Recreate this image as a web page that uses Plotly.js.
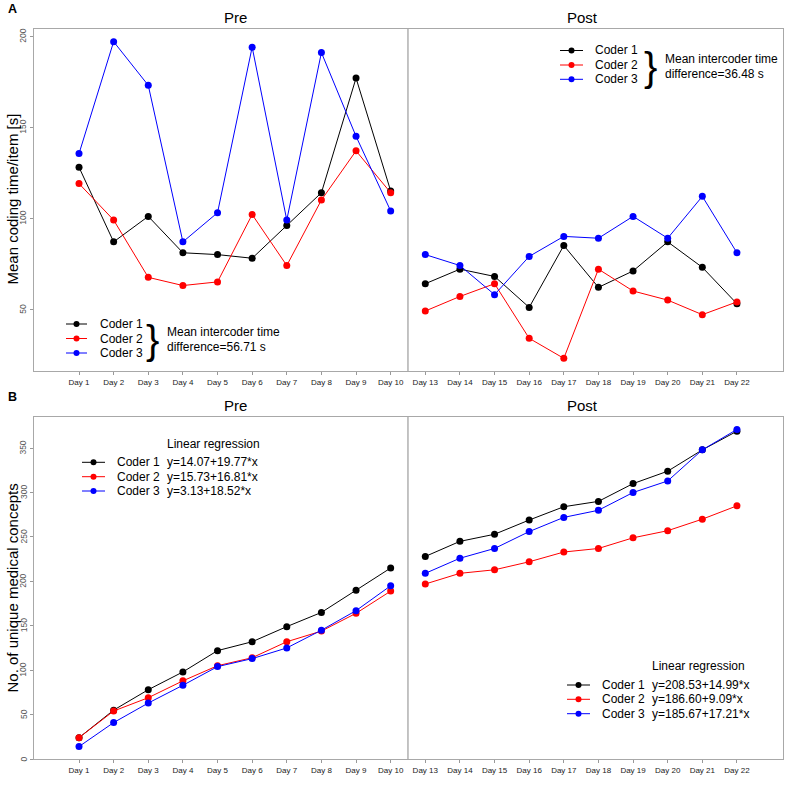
<!DOCTYPE html>
<html>
<head>
<meta charset="utf-8">
<script src="https://cdn.plot.ly/plotly-3.0.1.min.js"></script>
<style>html,body{margin:0;padding:0;background:#fff;}#chart{width:800px;height:790px;}</style>
</head>
<body>
<div id="chart"></div>
<script>
// ---------- DATA ----------
const daysPre  = ["Day 1","Day 2","Day 3","Day 4","Day 5","Day 6","Day 7","Day 8","Day 9","Day 10"];
const daysPost = ["Day 13","Day 14","Day 15","Day 16","Day 17","Day 18","Day 19","Day 20","Day 21","Day 22"];
const coders = ["Coder 1","Coder 2","Coder 3"];

// Panel A: mean coding time per item [s]
const timePreCoder1  = [128, 87, 101, 81, 80, 78, 96, 114, 177, 115];
const timePreCoder2  = [119, 99, 67.5, 63, 65, 102, 74, 110, 137, 114];
const timePreCoder3  = [135.5, 197, 173, 87, 103, 194, 99, 191, 145, 104];
const timePostCoder1 = [64, 72, 68, 51, 85, 62, 71, 87, 73, 53];
const timePostCoder2 = [49, 57, 64, 34, 23, 72, 60, 55, 47, 54];
const timePostCoder3 = [80, 74, 58, 79, 90, 89, 101, 89, 112, 81];

// Panel B: number of unique medical concepts
const concPreCoder1  = [24, 55, 78, 98, 122, 132, 149, 165, 190, 215];
const concPreCoder2  = [24, 54, 69, 88, 105, 114, 132, 144, 164, 189];
const concPreCoder3  = [14, 41, 63, 83, 104, 113, 125, 145, 167, 195];
const concPostCoder1 = [228, 245, 253, 269, 284, 290, 310, 324, 348, 369];
const concPostCoder2 = [197, 209, 213, 222, 233, 237, 249, 257, 270, 285];
const concPostCoder3 = [209, 226, 237, 256, 272, 280, 300, 313, 348, 371];

const yTicksA = [50, 100, 150, 200];
const yTicksB = [0, 50, 100, 150, 200, 250, 300, 350];

const meanDiffPre  = "56.71";
const meanDiffPost = "36.48";
const regPre  = ["y=14.07+19.77*x", "y=15.73+16.81*x", "y=3.13+18.52*x"];
const regPost = ["y=208.53+14.99*x", "y=186.60+9.09*x", "y=185.67+17.21*x"];

// ---------- STYLE / LAYOUT HELPERS ----------
const colors = ["#000000", "#ff0000", "#0000ff"];
const FONT = "Liberation Sans, Arial, Helvetica, sans-serif";
const L = 34, R = 783, T = 29, B = 759;
const px = x => (x - L) / (R - L);
const py = y => (B - y) / (B - T);
const allDays = daysPre.concat(daysPost);

function tr(x, y, i, xa, ya) {
  return {x: x, y: y, type: "scatter", mode: "lines+markers", xaxis: xa, yaxis: ya,
    line: {color: colors[i], width: 1}, marker: {color: colors[i], size: 7},
    showlegend: false, hoverinfo: "x+y", name: coders[i]};
}

const data = [
  tr(daysPre,  timePreCoder1, 0, "x", "y"),
  tr(daysPre,  timePreCoder2, 1, "x", "y"),
  tr(daysPre,  timePreCoder3, 2, "x", "y"),
  tr(daysPost, timePostCoder1, 0, "x", "y"),
  tr(daysPost, timePostCoder2, 1, "x", "y"),
  tr(daysPost, timePostCoder3, 2, "x", "y"),
  tr(daysPre,  concPreCoder1, 0, "x2", "y2"),
  tr(daysPre,  concPreCoder2, 1, "x2", "y2"),
  tr(daysPre,  concPreCoder3, 2, "x2", "y2"),
  tr(daysPost, concPostCoder1, 0, "x2", "y2"),
  tr(daysPost, concPostCoder2, 1, "x2", "y2"),
  tr(daysPost, concPostCoder3, 2, "x2", "y2")
];

const boxColor = "#a8a8a8";
function xax(anchor) {
  return {anchor: anchor, domain: [0, 1], type: "category", categoryarray: allDays,
    categoryorder: "array", range: [-1.3, 20.33],
    showline: true, mirror: true, linecolor: boxColor, linewidth: 1,
    showgrid: false, zeroline: false,
    ticks: "outside", ticklen: 3, tickcolor: "#999", tickwidth: 1,
    tickfont: {family: FONT, size: 8, color: "#222"}, tickangle: 0};
}
function yax(anchor, dom, range, tv) {
  return {anchor: anchor, domain: dom, range: range, tickvals: tv,
    showline: true, mirror: true, linecolor: boxColor, linewidth: 1,
    showgrid: false, zeroline: false,
    ticks: "outside", ticklen: 3, tickcolor: "#999", tickwidth: 1,
    showticklabels: false};
}

const shapes = [];
const annotations = [];

// separators between Pre and Post
shapes.push({type: "line", xref: "x", yref: "y domain", x0: 9.5, x1: 9.5, y0: 0, y1: 1,
  line: {color: "#888", width: 1}});
shapes.push({type: "line", xref: "x2", yref: "y2 domain", x0: 9.5, x1: 9.5, y0: 0, y1: 1,
  line: {color: "#888", width: 1}});

function txt(text, x, y, size, opts) {
  annotations.push(Object.assign({text: text, xref: "paper", yref: "paper",
    x: px(x), y: py(y), xanchor: "left", yanchor: "middle", showarrow: false,
    font: {family: FONT, size: size, color: "#000"}}, opts || {}));
}

// rotated y tick labels (R style), positioned by the y axis scale
function yTickLabels(vals, yref) {
  vals.forEach(v => annotations.push({text: String(v), xref: "paper", yref: yref,
    x: px(23.5), y: v, xanchor: "center", yanchor: "middle", textangle: -90,
    showarrow: false, font: {family: FONT, size: 8.5, color: "#555"}}));
}
yTickLabels(yTicksA, "y");
yTickLabels(yTicksB, "y2");

// legend rows: line + marker + label
function legendRows(x0, x1, xm, xt, ys, labels) {
  for (let i = 0; i < 3; i++) {
    shapes.push({type: "line", xref: "paper", yref: "paper", x0: px(x0), x1: px(x1),
      y0: py(ys[i]), y1: py(ys[i]), line: {color: colors[i], width: 1}});
    const r = 3;
    shapes.push({type: "circle", xref: "paper", yref: "paper",
      x0: px(xm - r), x1: px(xm + r), y0: py(ys[i] + r), y1: py(ys[i] - r),
      fillcolor: colors[i], line: {color: colors[i], width: 0}});
    txt(labels[i], xt, ys[i], 12);
  }
}

// Panel A, Pre legend
legendRows(66, 87, 76.5, 98, [324, 338.5, 353], coders);
txt("}", 152, 340, 40, {xanchor: "center"});
txt("Mean intercoder time", 165, 332, 12);
txt("difference=" + meanDiffPre + " s", 165, 347, 12);

// Panel A, Post legend
legendRows(560, 583, 571.5, 593, [50.5, 65, 79.3], coders);
txt("}", 650, 67, 40, {xanchor: "center"});
txt("Mean intercoder time", 663, 59, 12);
txt("difference=" + meanDiffPost + " s", 663, 73.5, 12);

// Panel B, Pre legend
txt("Linear regression", 164.5, 443.5, 12);
legendRows(82, 105, 93.5, 115, [462.3, 476.7, 491], coders);
for (let i = 0; i < 3; i++) txt(regPre[i], 164.5, [462.3, 476.7, 491][i], 12);

// Panel B, Post legend
txt("Linear regression", 649.5, 666, 12);
legendRows(567, 590, 578.5, 600, [685, 699.3, 713.7], coders);
for (let i = 0; i < 3; i++) txt(regPost[i], 649.5, [685, 699.3, 713.7][i], 12);

// Titles
txt("Pre", 235, 17, 15, {xanchor: "center"});
txt("Post", 582, 17, 15, {xanchor: "center"});
txt("Pre", 235, 405.5, 15, {xanchor: "center"});
txt("Post", 582, 405.5, 15, {xanchor: "center"});
txt("<b>A</b>", 12, 9, 12.5, {xanchor: "center"});
txt("<b>B</b>", 12.5, 397, 12.5, {xanchor: "center"});
txt("Mean coding time/item [s]", 11.5, 199, 15, {xanchor: "center", textangle: -90});
txt("No. of unique medical concepts", 11.5, 588, 15, {xanchor: "center", textangle: -90});

const layout = {
  width: 800, height: 790, autosize: false,
  margin: {l: L, r: 800 - R, t: T, b: 790 - B, pad: 0},
  paper_bgcolor: "#ffffff", plot_bgcolor: "#ffffff",
  font: {family: FONT},
  showlegend: false,
  xaxis: xax("y"),
  yaxis: yax("x", [py(371), 1], [16.04, 203.96], yTicksA),
  xaxis2: xax("y2"),
  yaxis2: yax("x2", [0, py(417)], [0, 385], yTicksB),
  shapes: shapes,
  annotations: annotations
};

Plotly.newPlot("chart", data, layout, {displayModeBar: false, staticPlot: true});
</script>
</body>
</html>
